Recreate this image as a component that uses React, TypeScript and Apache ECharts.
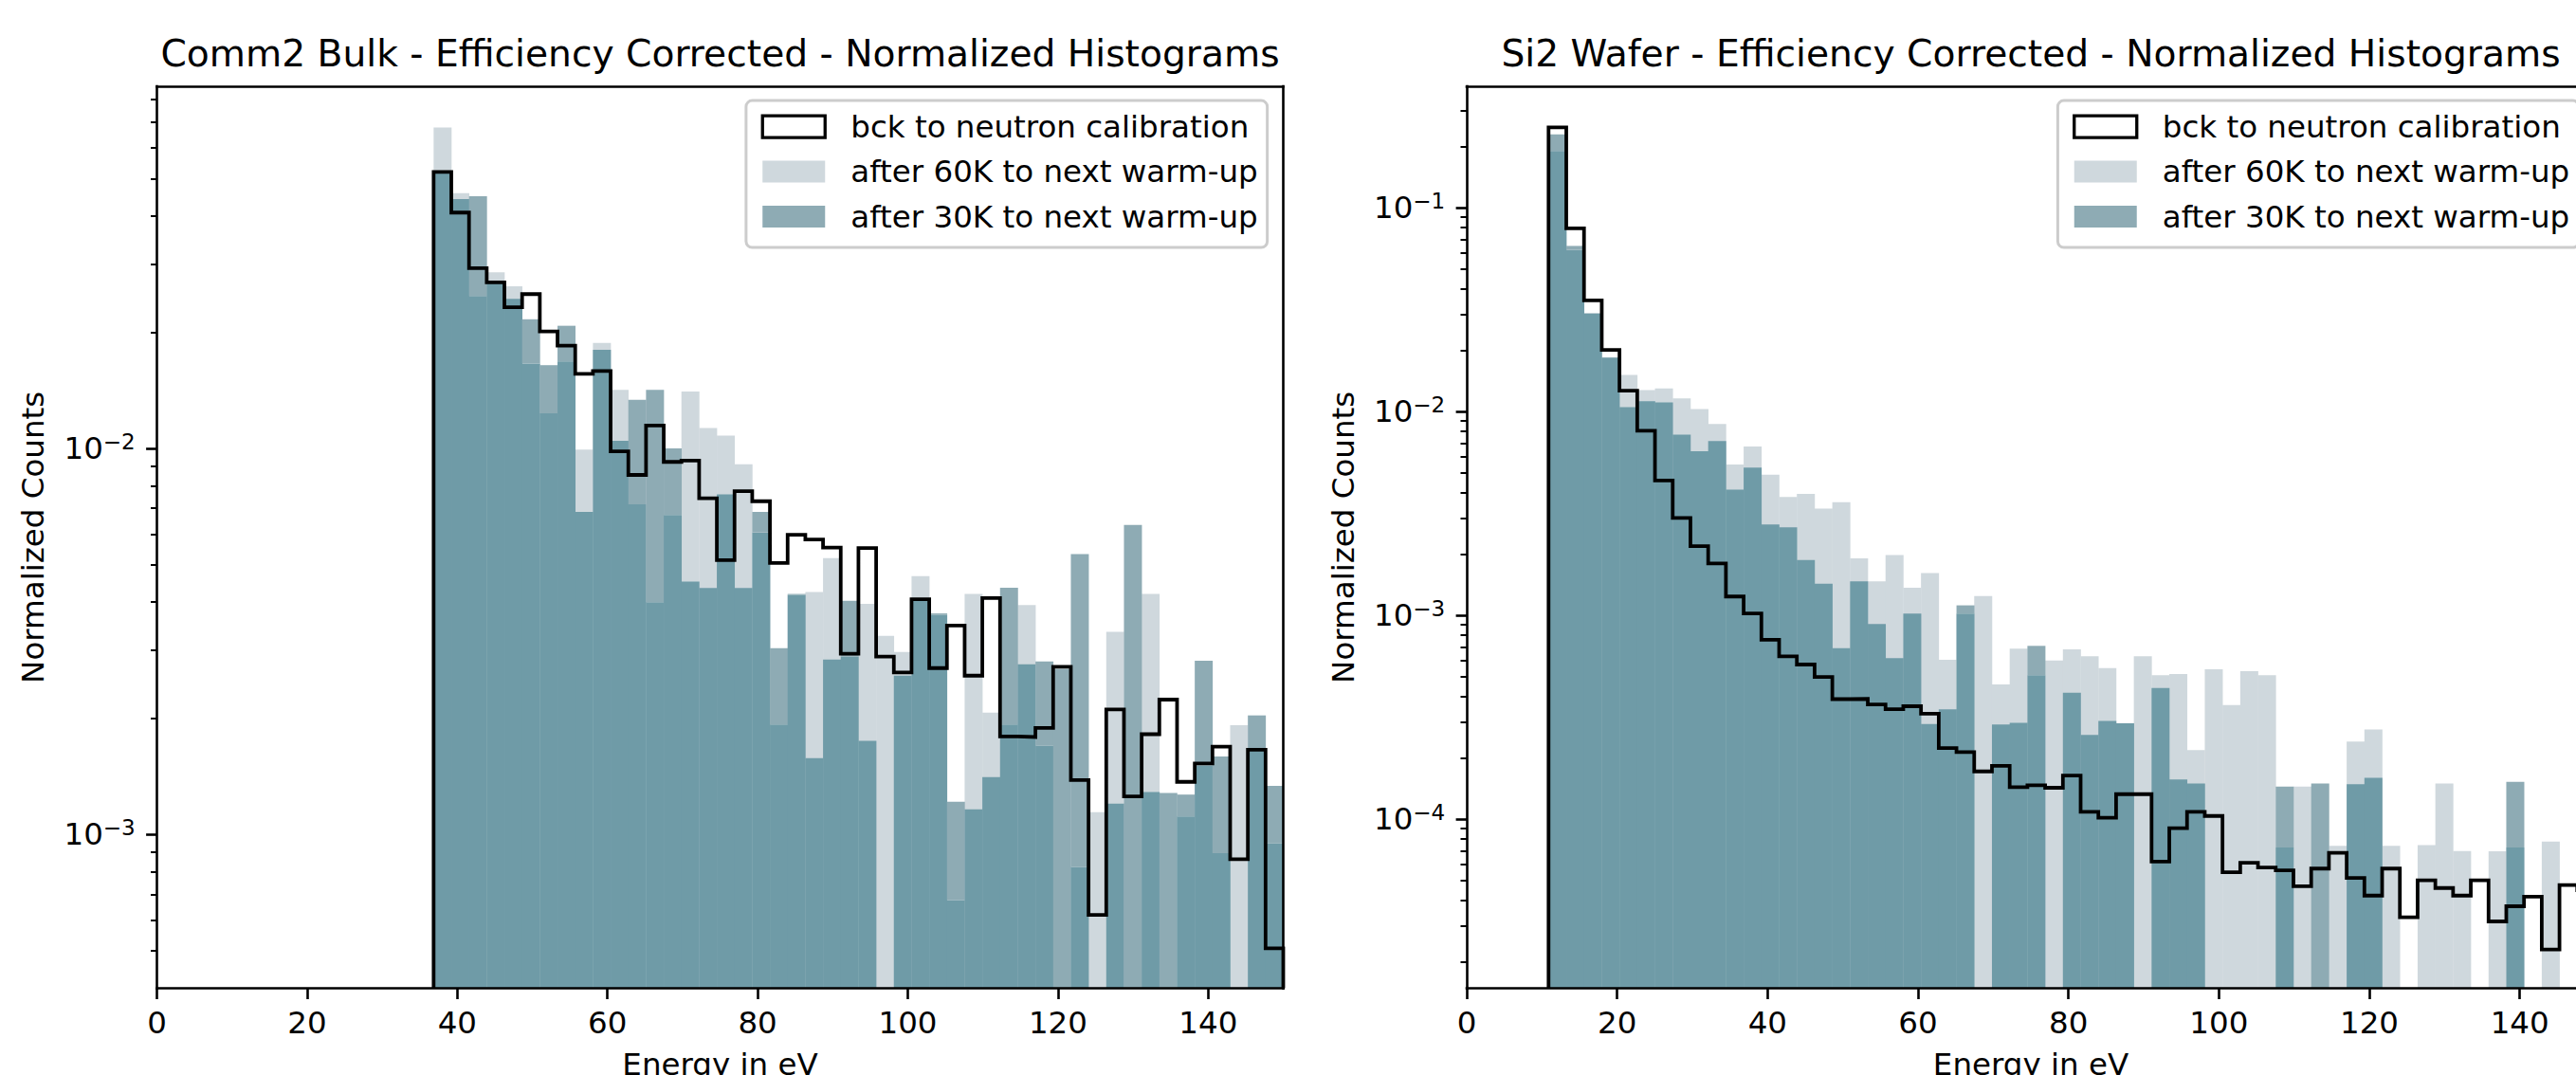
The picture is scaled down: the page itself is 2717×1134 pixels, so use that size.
import React, { useEffect, useRef } from 'react';
import * as echarts from 'echarts';

// ---------------- data ----------------
const NAME_BCK = 'bck to neutron calibration';
const NAME_60K = 'after 60K to next warm-up';
const NAME_30K = 'after 30K to next warm-up';

const TITLE_LEFT = 'Comm2 Bulk - Efficiency Corrected - Normalized Histograms';
const TITLE_RIGHT = 'Si2 Wafer - Efficiency Corrected - Normalized Histograms';
const X_NAME = 'Energy in eV';
const Y_NAME = 'Normalized Counts';

const X_TICKS = [0, 20, 40, 60, 80, 100, 120, 140];
const Y_TICKS_LEFT = [1e-3, 1e-2];
const Y_TICKS_RIGHT = [1e-4, 1e-3, 1e-2, 1e-1];

// bin ranges (eV)
const LEFT_BIN_START = 36.85;
const LEFT_BIN_END = 150;
const LEFT_BIN_COUNT = 48;
const RIGHT_BIN_START = 10.88;
const RIGHT_BIN_END = 150;
const RIGHT_BIN_COUNT = 59;

// axis limits
const LEFT_Y_MIN = 4.0e-4;
const LEFT_Y_MAX = 0.0866;
const RIGHT_Y_MIN = 1.484e-5;
const RIGHT_Y_MAX = 0.394;

// Comm2 Bulk
const LEFT_BCK = [0.052, 0.0408, 0.0293, 0.0269, 0.0232, 0.0251, 0.0201, 0.01845, 0.0156, 0.01587, 0.00983, 0.00854,
  0.01146, 0.00923, 0.0093, 0.00743, 0.00514, 0.00775, 0.0073, 0.00505, 0.00598, 0.00581, 0.00554, 0.00294,
  0.00552, 0.00289, 0.00263, 0.00407, 0.0027, 0.00348, 0.00258, 0.0041, 0.001795, 0.00179, 0.00189, 0.00272,
  0.001385, 0.00062, 0.00211, 0.001256, 0.00182, 0.002237, 0.00137, 0.001528, 0.00169, 0.000864, 0.00166, 0.000508];
const LEFT_60K = [0.0678, 0.0458, 0.0248, 0.0286, 0.0263, 0.0166, 0.01233, 0.0168, 0.00993, 0.01877, 0.01419, 0.00717,
  0.004, 0.00673, 0.01404, 0.0113, 0.0108, 0.0091, 0.00606, 0.00193, 0.00418, 0.00425, 0.0052, 0.00289,
  0.00396, 0.00327, 0.00297, 0.00467, 0.00371, 0.000676, 0.0042, 0.00207, 0.00193, 0.00393, 0.0017, null,
  0.000825, 0.001143, 0.00335, null, 0.0042, null, 0.001115, 0.00151, 0.000895, 0.00192, 0.00165, 0.00095];
const LEFT_30K = [0.0521, 0.0442, 0.045, 0.0269, 0.0244, 0.0216, 0.01643, 0.02078, 0.00685, 0.018, 0.01047, 0.01337,
  0.01419, 0.01, 0.00452, 0.00435, 0.00761, 0.00435, 0.00685, 0.00304, 0.0042, 0.001577, 0.00284, 0.00403,
  0.00175, null, 0.00258, 0.00403, 0.00374, 0.001217, 0.001163, 0.00141, 0.00436, 0.00276, 0.00281, 0.00269,
  0.00533, null, 0.001204, 0.00634, 0.00129, 0.001283, 0.00127, 0.00282, 0.001594, null, 0.002036, 0.001338];

// Si2 Wafer
const RIGHT_BCK = [0.2477, 0.0793, 0.0351, 0.0201, 0.01267, 0.00807, 0.0046, 0.00301, 0.00219, 0.0018, 0.00124, 0.001023,
  0.00076, 0.000631, 0.000575, 0.0005, 0.000389, 0.00039, 0.000366, 0.000347, 0.000359, 0.00033, 0.000224, 0.000214,
  0.000172, 0.000183, 0.000144, 0.000147, 0.000143, 0.000164, 0.000109, 0.000102, 0.000133, 0.000133, 0.0000621,
  0.0000906, 0.000109, 0.000104, 0.0000551, 0.0000613, 0.0000581, 0.0000562, 0.000047, 0.0000574, 0.0000686,
  0.0000516, 0.0000423, 0.0000574, 0.0000331, 0.0000503, 0.0000461, 0.0000423, 0.0000503, 0.0000316, 0.0000375,
  0.0000418, 0.000023, 0.0000477, 0.000045];
const RIGHT_60K = [0.19, 0.0621, 0.0303, 0.0184, 0.01515, 0.01275, 0.013, 0.01162, 0.01031, 0.00869, 0.0055, 0.00675,
  0.00491, 0.00382, 0.00395, 0.00335, 0.0036, 0.001906, 0.00147, 0.00198, 0.00137, 0.001616, 0.000606, 0.001023,
  0.001247, 0.000459, 0.000688, 0.00051, 0.000602, 0.000683, 0.000631, 0.000553, 0.000297, 0.000631, 0.00051,
  0.000517, 0.000219, 0.000545, 0.000364, 0.000534, 0.00051, 0.0000728, 0.000145, null, 0.0000743, 0.000241,
  0.000276, 0.0000743, null, 0.0000748, 0.00015, 0.00007, null, 0.0000698, 0.0000728, null, 0.0000778, null, null];
const RIGHT_30K = [0.2288, 0.065, 0.0304, 0.01848, 0.01052, 0.01124, 0.0111, 0.00771, 0.0064, 0.00717, 0.00414, 0.00532,
  0.0028, 0.00271, 0.00187, 0.001434, 0.000692, 0.00147, 0.000908, 0.000618, 0.001023, 0.000294, 0.000347, 0.001122,
  null, 0.000292, 0.000298, 0.00071, null, 0.000418, 0.00026, 0.000304, 0.000296, null, 0.000441, 0.000157,
  0.00015, null, null, null, null, 0.000145, null, 0.00015, null, 0.000149, 0.00016, null, null, null, null, null,
  null, null, 0.000153, null, null, null, null];

// ---------------- styles ----------------
const FONT = 'DejaVu Sans';
const COLOR_60K = '#cfd8dd';
const COLOR_30K = '#8eabb4';
const COLOR_BOTH = '#6f9ba7';
const FS = 32.5;

const binEdges = (start: number, end: number, n: number) =>
  Array.from({ length: n + 1 }, (_, i) => start + ((end - start) * i) / n);

const stepPoints = (edges: number[], vals: number[], floor: number) => {
  const pts: number[][] = [[edges[0], floor]];
  vals.forEach((v, i) => {
    pts.push([edges[i], v], [edges[i + 1], v]);
  });
  pts.push([edges[edges.length - 1], floor]);
  return pts;
};

const render60 = (params: any, api: any) => {
  const v = api.value(2);
  if (!(v > 0)) return null;
  const cs = params.coordSys;
  const bottom = cs.y + cs.height;
  const p0 = api.coord([api.value(0), v]);
  const p1 = api.coord([api.value(1), v]);
  return {
    type: 'rect',
    shape: { x: p0[0], y: p0[1], width: p1[0] - p0[0] + 0.3, height: bottom - p0[1] },
    style: { fill: COLOR_60K },
  };
};

const render30 = (params: any, api: any) => {
  const v = api.value(2);
  const o = api.value(3);
  if (!(v > 0)) return null;
  const cs = params.coordSys;
  const bottom = cs.y + cs.height;
  const x0 = api.value(0);
  const x1 = api.value(1);
  const p0 = api.coord([x0, v]);
  const p1 = api.coord([x1, v]);
  const w = p1[0] - p0[0] + 0.3;
  const children: any[] = [];
  if (o > 0) {
    const lo = Math.min(v, o);
    const ylo = api.coord([x0, lo])[1];
    children.push({ type: 'rect', shape: { x: p0[0], y: ylo, width: w, height: bottom - ylo }, style: { fill: COLOR_BOTH } });
    if (v > o) {
      children.push({ type: 'rect', shape: { x: p0[0], y: p0[1], width: w, height: ylo - p0[1] }, style: { fill: COLOR_30K } });
    }
  } else {
    children.push({ type: 'rect', shape: { x: p0[0], y: p0[1], width: w, height: bottom - p0[1] }, style: { fill: COLOR_30K } });
  }
  return { type: 'group', children };
};

const supLabel = (v: number) => {
  const e = Math.round(Math.log10(v));
  return '{b|10}{s|\u2212' + Math.abs(e) + '}';
};

const axisLineStyle = { show: true, onZero: false, lineStyle: { color: '#000', width: 2.6, cap: 'square' } };

function buildPanel(
  g: number,
  grid: { left: number; top: number; width: number; height: number },
  yMin: number,
  yMax: number,
  yTicks: number[],
  edges: number[],
  bck: number[],
  v60: (number | null)[],
  v30: (number | null)[]
) {
  const xMain = {
    type: 'value', gridIndex: g, min: 0, max: 150, interval: 20, position: 'bottom', z: 10,
    axisLine: axisLineStyle,
    axisTick: { show: true, length: 11.4, lineStyle: { color: '#000', width: 2.6 }, customValues: X_TICKS },
    axisLabel: { show: true, customValues: X_TICKS, color: '#000', fontSize: FS, fontFamily: FONT, margin: 20, lineHeight: FS },
    splitLine: { show: false },
    name: X_NAME, nameLocation: 'middle', nameGap: 64,
    nameTextStyle: { color: '#000', fontSize: FS, fontFamily: FONT, lineHeight: FS },
  };
  const xTop = {
    type: 'value', gridIndex: g, min: 0, max: 150, position: 'top', z: 10,
    axisLine: axisLineStyle, axisTick: { show: false }, axisLabel: { show: false }, splitLine: { show: false },
  };
  const yMain = {
    type: 'log', logBase: 10, gridIndex: g, min: yMin, max: yMax, position: 'left', z: 10,
    axisLine: axisLineStyle,
    axisTick: { show: true, length: 11.4, lineStyle: { color: '#000', width: 2.6 }, customValues: yTicks },
    minorTick: { show: true, splitNumber: 9, length: 6.5, lineStyle: { color: '#000', width: 2 } },
    axisLabel: {
      show: true, customValues: yTicks, margin: 22.8, formatter: supLabel,
      rich: {
        b: { fontSize: FS, lineHeight: 33, fontFamily: FONT, color: '#000' },
        s: { fontSize: 23, lineHeight: 19, padding: [0, 0, 14, 0], fontFamily: FONT, color: '#000' },
      },
    },
    splitLine: { show: false }, minorSplitLine: { show: false },
    name: Y_NAME, nameLocation: 'middle', nameGap: 114,
    nameTextStyle: { color: '#000', fontSize: FS, fontFamily: FONT, lineHeight: FS },
  };
  const yRight = {
    type: 'log', logBase: 10, gridIndex: g, min: yMin, max: yMax, position: 'right', z: 10,
    axisLine: axisLineStyle, axisTick: { show: false }, minorTick: { show: false }, axisLabel: { show: false },
    splitLine: { show: false },
  };

  const xi = g * 2;
  const yi = g * 2;
  const data60 = v60.map((v, i) => [edges[i], edges[i + 1], v ?? 0, v30[i] ?? 0]);
  const data30 = v30.map((v, i) => [edges[i], edges[i + 1], v ?? 0, v60[i] ?? 0]);

  const series = [
    {
      type: 'custom', name: NAME_60K, xAxisIndex: xi, yAxisIndex: yi, renderItem: render60,
      data: data60, encode: { x: [0, 1], y: [2] }, clip: true, silent: true, z: 2,
      itemStyle: { color: COLOR_60K },
    },
    {
      type: 'custom', name: NAME_30K, xAxisIndex: xi, yAxisIndex: yi, renderItem: render30,
      data: data30, encode: { x: [0, 1], y: [2] }, clip: true, silent: true, z: 3,
      itemStyle: { color: COLOR_30K },
    },
    {
      type: 'line', name: NAME_BCK, xAxisIndex: xi, yAxisIndex: yi,
      data: stepPoints(edges, bck, yMin), symbol: 'none', showSymbol: false, clip: true, silent: true, z: 5,
      lineStyle: { color: '#000', width: 3.8, join: 'miter' }, itemStyle: { color: '#000' },
    },
  ];

  const legend = {
    show: true, orient: 'vertical', left: grid.left + grid.width - 16.6 - 550, top: grid.top + 15,
    padding: [11, 10, 16, 15.7], itemWidth: 66, itemHeight: 23, itemGap: 14.5,
    borderColor: '#cccccc', borderWidth: 3, borderRadius: 6.5, backgroundColor: 'rgba(255,255,255,0.8)',
    selectedMode: false,
    textStyle: { fontSize: FS, fontFamily: FONT, color: '#000', lineHeight: 33, padding: [0, 0, 0, 22] },
    data: [
      { name: NAME_BCK, icon: 'rect', itemStyle: { color: '#ffffff', borderColor: '#000', borderWidth: 3.3 } },
      { name: NAME_60K, icon: 'rect', itemStyle: { color: COLOR_60K, borderWidth: 0 } },
      { name: NAME_30K, icon: 'rect', itemStyle: { color: COLOR_30K, borderWidth: 0 } },
    ],
  };

  return { xAxes: [xMain, xTop], yAxes: [yMain, yRight], series, legend };
}

const LEFT_GRID = { left: 165.5, top: 91.1, width: 1188, height: 951.5 };
const RIGHT_GRID = { left: 1547, top: 91.1, width: 1190, height: 951.5 };

export default function App() {
  const ref = useRef<HTMLDivElement>(null);
  useEffect(() => {
    if (!ref.current) return;
    const chart = echarts.init(ref.current, null, { renderer: 'svg', width: 2760, height: 1134 });
    const L = buildPanel(0, LEFT_GRID, LEFT_Y_MIN, LEFT_Y_MAX, Y_TICKS_LEFT,
      binEdges(LEFT_BIN_START, LEFT_BIN_END, LEFT_BIN_COUNT), LEFT_BCK, LEFT_60K, LEFT_30K);
    const R = buildPanel(1, RIGHT_GRID, RIGHT_Y_MIN, RIGHT_Y_MAX, Y_TICKS_RIGHT,
      binEdges(RIGHT_BIN_START, RIGHT_BIN_END, RIGHT_BIN_COUNT), RIGHT_BCK, RIGHT_60K, RIGHT_30K);
    const option: any = {
      animation: false,
      backgroundColor: '#ffffff',
      textStyle: { fontFamily: FONT },
      title: [
        {
          text: TITLE_LEFT, left: LEFT_GRID.left + LEFT_GRID.width / 2, top: 36.8, textAlign: 'center', padding: 0,
          textStyle: { fontSize: 39.2, fontWeight: 'normal', color: '#000', fontFamily: FONT, lineHeight: 39.2 },
        },
        {
          text: TITLE_RIGHT, left: RIGHT_GRID.left + RIGHT_GRID.width / 2, top: 36.8, textAlign: 'center', padding: 0,
          textStyle: { fontSize: 39.2, fontWeight: 'normal', color: '#000', fontFamily: FONT, lineHeight: 39.2 },
        },
      ],
      grid: [
        { ...LEFT_GRID, show: false, containLabel: false, outerBoundsMode: 'none' },
        { ...RIGHT_GRID, show: false, containLabel: false, outerBoundsMode: 'none' },
      ],
      legend: [L.legend, R.legend],
      xAxis: [...L.xAxes, ...R.xAxes],
      yAxis: [...L.yAxes, ...R.yAxes],
      series: [...L.series, ...R.series],
    };
    chart.setOption(option);
    return () => chart.dispose();
  }, []);
  return (
    <div style={{ position: 'fixed', left: 0, top: 0, width: 2717, height: 1134, overflow: 'hidden', background: '#fff' }}>
      <div ref={ref} style={{ width: 2760, height: 1134 }} />
    </div>
  );
}
